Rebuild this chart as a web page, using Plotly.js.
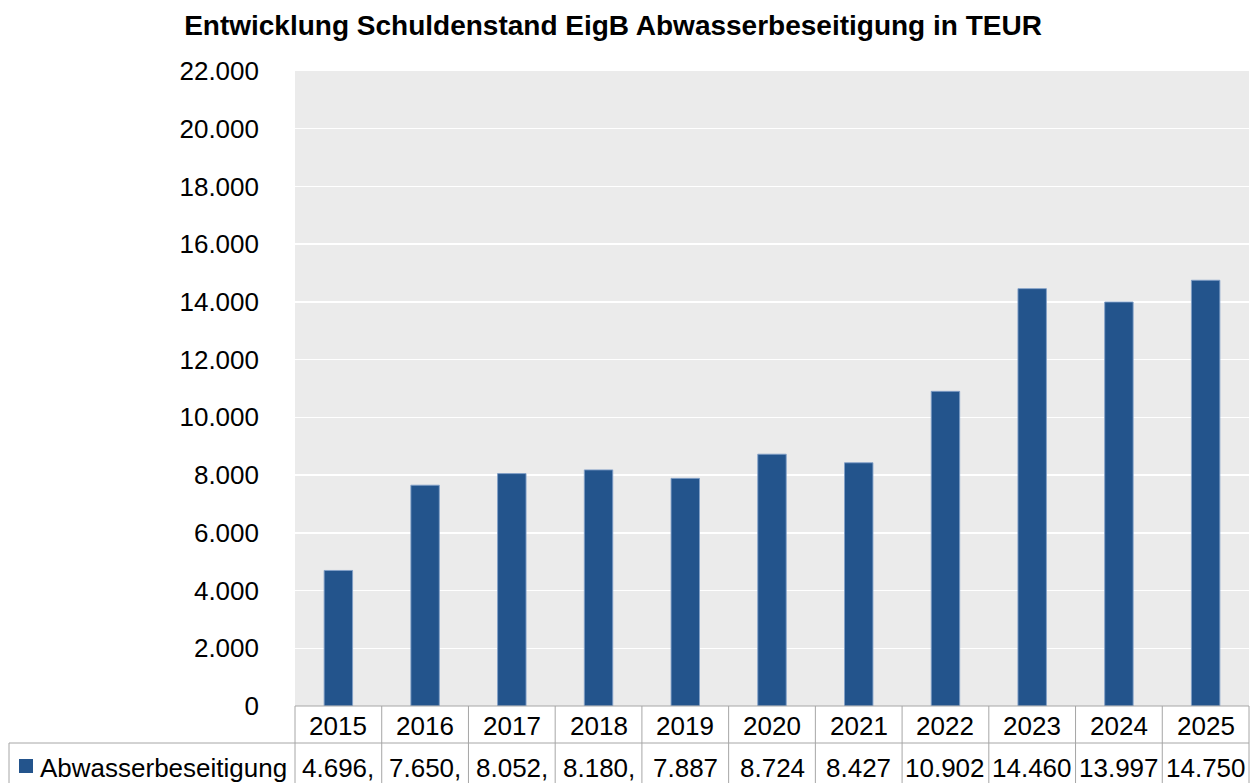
<!DOCTYPE html>
<html>
<head>
<meta charset="utf-8">
<script src="https://cdn.plot.ly/plotly-3.0.1.min.js"></script>
<style>html,body{margin:0;padding:0;background:#fff;}#chart{width:1259px;height:783px;}</style>
</head>
<body>
<div id="chart"></div>
<script>
const years = ["2015","2016","2017","2018","2019","2020","2021","2022","2023","2024","2025"];
const values = [4696, 7650, 8052, 8180, 7887, 8724, 8427, 10902, 14460, 13997, 14750];
const tableLabels = ["4.696,","7.650,","8.052,","8.180,","7.887","8.724","8.427","10.902","14.460","13.997","14.750"];
const seriesName = "Abwasserbeseitigung";
const titleText = "Entwicklung Schuldenstand EigB Abwasserbeseitigung in TEUR";

const W = 1259, H = 783;
const mL = 295, mR = 10, mT = 71, mB = 77;
const pw = W - mL - mR, ph = H - mT - mB;
const px = v => (v - mL) / pw;       // pixel x -> paper
const py = v => (H - mB - v) / ph;   // pixel y -> paper
const n = years.length;
const barColor = "#23548c";
const borderColor = "#a6a6a6";
const font = "Liberation Sans, Arial, sans-serif";

const shapes = [];
const annotations = [];
// table top line (plot bottom)
shapes.push({type:"line", xref:"paper", yref:"paper", x0:0, x1:1, y0:0, y1:0, line:{color:borderColor, width:1}});
// row divider
shapes.push({type:"line", xref:"paper", yref:"paper", x0:px(9), x1:1, y0:py(743), y1:py(743), line:{color:borderColor, width:1}});
// left border of label cell
shapes.push({type:"line", xref:"paper", yref:"paper", x0:px(9), x1:px(9), y0:py(743), y1:py(790), line:{color:borderColor, width:1}});
// vertical cell borders at category boundaries
for (let k = 0; k <= n; k++) {
  shapes.push({type:"line", xref:"paper", yref:"paper", x0:k/n, x1:k/n, y0:0, y1:py(790), line:{color:borderColor, width:1}});
}
// legend key
shapes.push({type:"rect", xref:"paper", yref:"paper", x0:px(19), x1:px(33), y0:py(773), y1:py(759), fillcolor:barColor, line:{width:0}});

years.forEach((y, i) => {
  annotations.push({xref:"x", yref:"paper", x:i, y:py(726), text:y, showarrow:false, xanchor:"center", yanchor:"middle", font:{family:font, size:26, color:"#000"}});
  annotations.push({xref:"x", yref:"paper", x:i, y:py(768), text:tableLabels[i], showarrow:false, xanchor:"center", yanchor:"middle", font:{family:font, size:26, color:"#000"}});
});
annotations.push({xref:"paper", yref:"paper", x:px(38), y:py(768), text:seriesName, showarrow:false, xanchor:"left", yanchor:"middle", font:{family:font, size:26, color:"#000"}});

const trace = {
  type:"bar", x:years, y:values, name:seriesName,
  marker:{color:barColor, line:{color:"rgba(130,160,200,0.9)", width:1}},
  hoverinfo:"x+y"
};

const layout = {
  width:W, height:H,
  margin:{l:mL, r:mR, t:mT, b:mB, pad:0},
  paper_bgcolor:"#ffffff",
  plot_bgcolor:"#ebebeb",
  separators:",.",
  showlegend:false,
  bargap:0.672,
  title:{text:"<b>"+titleText+"</b>", font:{family:font, size:28, color:"#000"}, x:613/W, xref:"container", xanchor:"center", y:1-25/H, yref:"container", yanchor:"middle"},
  xaxis:{type:"category", range:[-0.5, n-0.5], showticklabels:false, showgrid:false, zeroline:false, showline:false, ticks:""},
  yaxis:{range:[0,22000], dtick:2000, tick0:0, tickformat:",d", showgrid:true, gridcolor:"#ffffff", gridwidth:1.5, zeroline:false, showline:false, ticks:"", ticklabelstandoff:35, tickfont:{family:font, size:26, color:"#000"}},
  shapes:shapes,
  annotations:annotations
};

Plotly.newPlot("chart", [trace], layout, {displayModeBar:false, staticPlot:true});
</script>
</body>
</html>
